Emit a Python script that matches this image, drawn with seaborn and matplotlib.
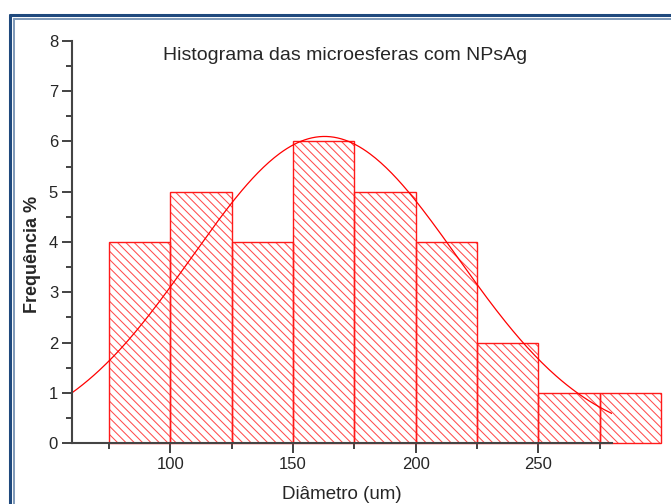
import numpy as np
import pandas as pd
import matplotlib
matplotlib.use('Agg')
import matplotlib.pyplot as plt
from matplotlib.lines import Line2D
from matplotlib.ticker import MultipleLocator
import seaborn as sns

# histogram bins (um) and counts
bin_edges = [75, 100, 125, 150, 175, 200, 225, 250, 275, 300]
counts = [4, 5, 4, 6, 5, 4, 2, 1, 1]

# gaussian fit
fit_amp = 6.1
fit_mu = 162.9
fit_sigma = 54.1

title = 'Histograma das microesferas com NPsAg'
xlabel = 'Diâmetro (um)'
ylabel = 'Frequência %'

sns.set_theme(style='white')
plt.rcParams['font.family'] = ['Liberation Sans', 'DejaVu Sans']
plt.rcParams['hatch.linewidth'] = 0.75

fig = plt.figure(figsize=(6.71, 5.04), dpi=100)
ax = fig.add_axes([0.1073, 0.1210, 0.8048, 0.7977])

centers = [(a + b) / 2 for a, b in zip(bin_edges[:-1], bin_edges[1:])]
df = pd.DataFrame({'diam': centers, 'n': counts})

# hatched fill (lighter lines)
sns.histplot(data=df, x='diam', weights='n', bins=bin_edges, ax=ax,
             color='red', linewidth=0)
for p in ax.patches:
    p.set_facecolor('none')
    p.set_edgecolor('#ff4d4d')
    p.set_linewidth(0)
    p.set_hatch('\\\\\\\\')
    p.set_clip_on(False)
n_hatched = len(ax.patches)

# solid outlines on top
sns.histplot(data=df, x='diam', weights='n', bins=bin_edges, ax=ax,
             fill=False, color='red', linewidth=1)
for p in ax.patches[n_hatched:]:
    p.set_edgecolor('#ff1a1a')
    p.set_clip_on(False)

xs = np.linspace(60, 280, 300)
fit = pd.DataFrame({'x': xs,
                    'y': fit_amp * np.exp(-(xs - fit_mu) ** 2 / (2 * fit_sigma ** 2))})
sns.lineplot(data=fit, x='x', y='y', ax=ax, color='red', linewidth=0.9)

ax.set_xlim(60, 280)
ax.set_ylim(0, 8)
ax.xaxis.set_major_locator(MultipleLocator(50))
ax.xaxis.set_minor_locator(MultipleLocator(25))
ax.yaxis.set_major_locator(MultipleLocator(1))
ax.yaxis.set_minor_locator(MultipleLocator(0.5))
ax.tick_params(which='major', direction='out', length=7, width=1.2,
               color='#222222', labelsize=12, pad=3,
               bottom=True, left=True)
ax.tick_params(which='minor', direction='out', length=4, width=1.2,
               color='#222222', bottom=True, left=True)
sns.despine(ax=ax)
for s in ['left', 'bottom']:
    ax.spines[s].set_color('#444444')
    ax.spines[s].set_linewidth(1.5)

ax.set_xlabel(xlabel, fontsize=13.5, labelpad=10)
ax.set_ylabel(ylabel, fontsize=13, fontweight='bold')
ax.yaxis.set_label_coords(-0.058, 0.468)
ax.text(0.5056, 0.965, title, transform=ax.transAxes, ha='center',
        va='center', fontsize=14)

# blue page frame
fig.add_artist(Line2D([10 / 671, 1], [1 - 15 / 504, 1 - 15 / 504],
                      color='#1F497D', linewidth=2.2))
fig.add_artist(Line2D([13.5 / 671, 1], [1 - 18.5 / 504, 1 - 18.5 / 504],
                      color='#7F99B8', linewidth=1.4))
fig.add_artist(Line2D([10 / 671, 10 / 671], [0, 1 - 15 / 504],
                      color='#1F497D', linewidth=2.2))
fig.add_artist(Line2D([13.5 / 671, 13.5 / 671], [0, 1 - 18.5 / 504],
                      color='#7F99B8', linewidth=1.4))

fig.savefig('out.png', dpi=100)
